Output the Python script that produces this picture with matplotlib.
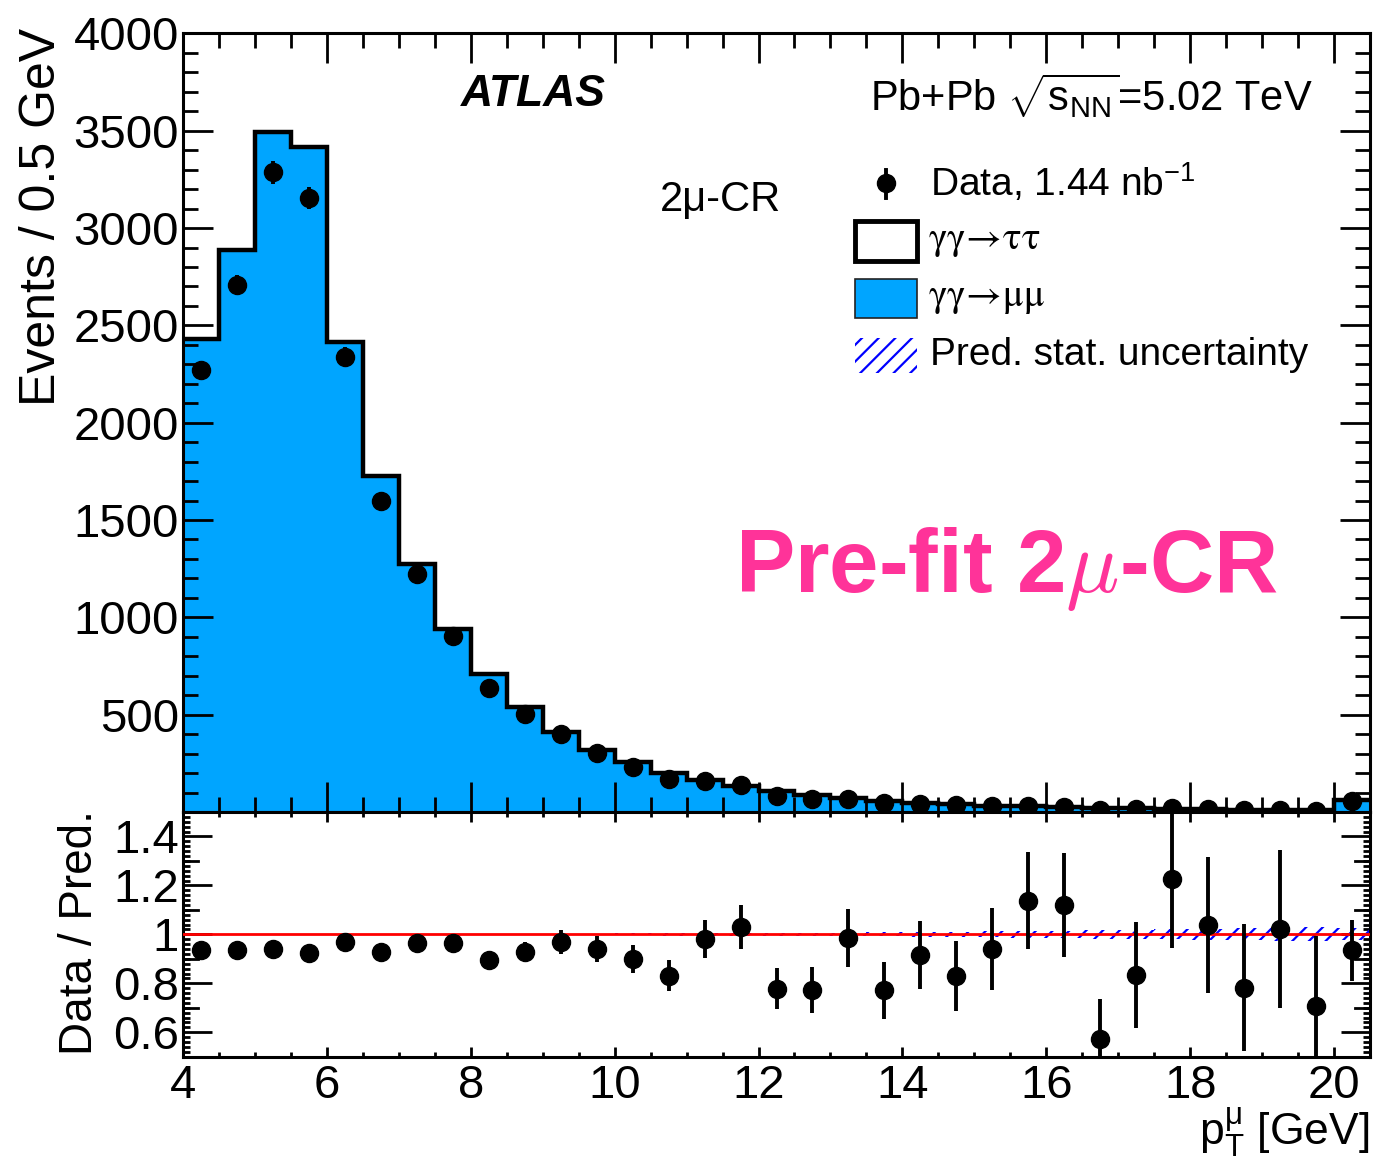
import numpy as np
import matplotlib
matplotlib.use("Agg")
import matplotlib.pyplot as plt
from matplotlib.patches import Rectangle
from matplotlib.lines import Line2D
import matplotlib.transforms as mtransforms

plt.rcParams['font.family'] = ['Liberation Sans', 'DejaVu Sans']
plt.rcParams['mathtext.fontset'] = 'custom'
plt.rcParams['mathtext.rm'] = 'Liberation Sans'
plt.rcParams['mathtext.it'] = 'Liberation Sans:italic'
plt.rcParams['mathtext.bf'] = 'Liberation Sans:bold'
plt.rcParams['hatch.linewidth'] = 1.6

# ---- binning: muon pT, 0.5 GeV bins (last bin collects overflow) ----
bin_edges = np.arange(4.0, 20.51, 0.5)

# ---- predictions (events / 0.5 GeV) ----
mumu = [2424, 2881, 3485, 3408, 2410, 1720, 1268, 938, 705, 538, 410, 319,
        256.5, 199.5, 161.8, 132, 107, 87.2, 69.3, 56.4, 46.5, 40.5, 32.6,
        28.6, 24.7, 20.7, 17.7, 15.3, 13.3, 11.3, 9.6, 8.3, 60]
tautau = [4, 6, 7, 7, 6, 5, 4, 3, 3, 2, 2, 2, 1.5, 1.5, 1.2, 1.0, 1.0, 0.8,
          0.7, 0.6, 0.5, 0.5, 0.4, 0.4, 0.3, 0.3, 0.3, 0.2, 0.2, 0.2, 0.2,
          0.2, 1.0]
# relative statistical uncertainty of the prediction
pred_stat_rel = [0.003, 0.003, 0.003, 0.003, 0.003, 0.003, 0.003, 0.003,
                 0.003, 0.003, 0.003, 0.003, 0.004, 0.005, 0.005, 0.006,
                 0.006, 0.007, 0.007, 0.008, 0.009, 0.010, 0.012, 0.013,
                 0.015, 0.017, 0.019, 0.021, 0.023, 0.025, 0.027, 0.028,
                 0.024]

# ---- observed events ----
data = [2270, 2708, 3286, 3155, 2339, 1599, 1225, 906, 635, 501, 399, 302,
        232, 167, 160, 137, 84, 68, 69, 44, 43, 34, 31, 33, 28, 12, 15, 19,
        14, 9, 10, 6, 57]

mumu = np.array(mumu, float)
tautau = np.array(tautau, float)
data = np.array(data, float)
pred = mumu + tautau
stat_rel = np.array(pred_stat_rel)
centers = 0.5 * (bin_edges[:-1] + bin_edges[1:])
data_err = np.sqrt(data)
ratio = data / pred
ratio_err = data_err / pred

BLUE = '#00a5ff'
PINK = '#ff3399'

W, H = 1375, 1164
fig = plt.figure(figsize=(W / 100, H / 100), dpi=100)

L, R = 183, 1370
T_main, B_main, B_ratio = 33.4, 812, 1056.7


def fig_rect(left, top, right, bottom):
    return [left / W, 1 - bottom / H, (right - left) / W, (bottom - top) / H]


ax = fig.add_axes(fig_rect(L, T_main, R, B_main))
rax = fig.add_axes(fig_rect(L, B_main, R, B_ratio), sharex=ax)


def step_vals(v):
    return np.append(v, v[-1])


# ---- main panel: stacked prediction ----
ax.fill_between(bin_edges, 0, step_vals(mumu), step='post', color=BLUE,
                lw=0, zorder=1)
ax.fill_between(bin_edges, step_vals(mumu), step_vals(pred), step='post',
                facecolor='white', lw=0, zorder=1)
ax.fill_between(bin_edges, step_vals(pred * (1 - stat_rel)),
                step_vals(pred * (1 + stat_rel)), step='post',
                facecolor='none', edgecolor='blue', hatch='//', lw=0,
                zorder=2)
ax.stairs(pred, bin_edges, color='black', lw=3.2, baseline=None, zorder=3)
ax.errorbar(centers, data, yerr=data_err, fmt='o', color='black',
            markersize=13, elinewidth=2.8, capsize=0, zorder=5)

ax.set_xlim(4, 20.5)
ax.set_ylim(0, 4000)
ax.set_xticks(np.arange(4, 20.1, 2))
ax.set_xticks(np.arange(4, 20.51, 0.5), minor=True)
ax.set_yticks(np.arange(500, 4001, 500))
ax.set_yticks(np.arange(0, 4001, 100), minor=True)
ax.tick_params(which='both', direction='in', top=True, right=True,
               width=2, labelsize=34, pad=3)
ax.tick_params(which='major', length=21.6)
ax.tick_params(which='minor', length=10.8)
ax.tick_params(axis='x', labelbottom=False)
for s in ax.spines.values():
    s.set_linewidth(2.2)

# ---- ratio panel ----
rax.fill_between(bin_edges, step_vals(1 - stat_rel), step_vals(1 + stat_rel),
                 step='post', facecolor='none', edgecolor='blue', hatch='//',
                 lw=0, zorder=2)
rax.axhline(1.0, color='red', lw=2.0, zorder=3)
rax.errorbar(centers, ratio, yerr=ratio_err, fmt='o', color='black',
             markersize=13, elinewidth=2.8, capsize=0, zorder=5)
rax.set_ylim(0.5, 1.5)
rax.set_yticks([0.6, 0.8, 1.0, 1.2, 1.4])
rax.set_yticklabels(['0.6', '0.8', '1', '1.2', '1.4'])
rax.set_yticks(np.arange(0.5, 1.501, 0.02), minor=True)
rax.tick_params(which='both', direction='in', top=True, right=True,
                width=2, labelsize=34, pad=3)
rax.tick_params(axis='y', which='major', length=21)
rax.tick_params(axis='y', which='minor', length=5)
rax.tick_params(axis='x', which='major', length=7.2, pad=5)
rax.tick_params(axis='x', which='minor', length=3.6)
rax.set_xticklabels(['4', '6', '8', '10', '12', '14', '16', '18', '20'])
for s in rax.spines.values():
    s.set_linewidth(2.2)

# intermediate ticks every 0.1 on the ratio axis
lt = mtransforms.blended_transform_factory(rax.transAxes, rax.transData)
mid_len = 15 / (R - L)
for yv in np.arange(0.5, 1.501, 0.2):
    rax.add_line(Line2D([0, mid_len], [yv, yv], transform=lt, color='black',
                        lw=2, clip_on=False))
    rax.add_line(Line2D([1 - mid_len, 1], [yv, yv], transform=lt,
                        color='black', lw=2, clip_on=False))

# ---- axis titles ----
fig.text(42 / W, 1 - 28 / H, 'Events / 0.5 GeV', rotation=90, ha='center',
         va='top', fontsize=36)
fig.text(80 / W, 1 - 810 / H, 'Data / Pred.', rotation=90, ha='center',
         va='top', fontsize=33)
fig.text(1369 / W, 1 - 1133 / H,
         r'$\mathrm{p}_{\mathrm{T}}^{\mathrm{\mu}}$ [GeV]', ha='right',
         va='center', fontsize=32)

# ---- labels inside the main panel ----
def axc(px, py):
    return ((px - L) / (R - L), (B_main - py) / (B_main - T_main))


ax.text(*axc(533, 95), 'ATLAS', transform=ax.transAxes, ha='center',
        va='center', fontsize=32, fontweight='bold', fontstyle='italic')
ax.text(*axc(870, 96), r'Pb+Pb $\sqrt{\mathrm{s}_{\mathrm{NN}}}$=5.02 TeV',
        transform=ax.transAxes, ha='left', va='center', fontsize=30)
ax.text(*axc(720, 200), '2μ-CR', transform=ax.transAxes, ha='center',
        va='center', fontsize=30)
ax.text(*axc(735, 592), r'Pre-fit 2$\mu$-CR', transform=ax.transAxes,
        ha='left', va='baseline', fontsize=64, fontweight='bold',
        color=PINK, math_fontfamily='cm')

# ---- legend ----
lx0, lx1 = 855, 917
mx, my = axc(886, 183)
ax.add_line(Line2D([mx, mx], [axc(0, 170)[1], axc(0, 198)[1]],
                   transform=ax.transAxes, color='black', lw=2.8))
ax.add_line(Line2D([mx], [my], transform=ax.transAxes, marker='o',
                   markersize=13, color='black'))
ax.text(*axc(930, 183), r'Data, 1.44 nb$^{\mathrm{-1}}$',
        transform=ax.transAxes, ha='left', va='center', fontsize=28)


def legend_box(top, bottom, **kw):
    x0, y0 = axc(lx0, bottom)
    x1, y1 = axc(lx1, top)
    ax.add_patch(Rectangle((x0, y0), x1 - x0, y1 - y0,
                           transform=ax.transAxes, **kw))


legend_box(221, 261, facecolor='white', edgecolor='black', lw=3.5)
legend_box(279, 318, facecolor=BLUE, edgecolor='#222222', lw=1.2)
legend_box(338, 373, facecolor='none', edgecolor='blue', hatch='//', lw=0)
ax.text(*axc(928, 241), r'$\mathrm{\gamma\gamma\!\rightarrow\!\tau\tau}$',
        transform=ax.transAxes, ha='left', va='center', fontsize=28,
        math_fontfamily='stix')
ax.text(*axc(928, 298), r'$\mathrm{\gamma\gamma\!\rightarrow\!\mu\mu}$',
        transform=ax.transAxes, ha='left', va='center', fontsize=28,
        math_fontfamily='stix')
ax.text(*axc(930, 355), 'Pred. stat. uncertainty', transform=ax.transAxes,
        ha='left', va='center', fontsize=28)

fig.savefig('out.png', dpi=100)
